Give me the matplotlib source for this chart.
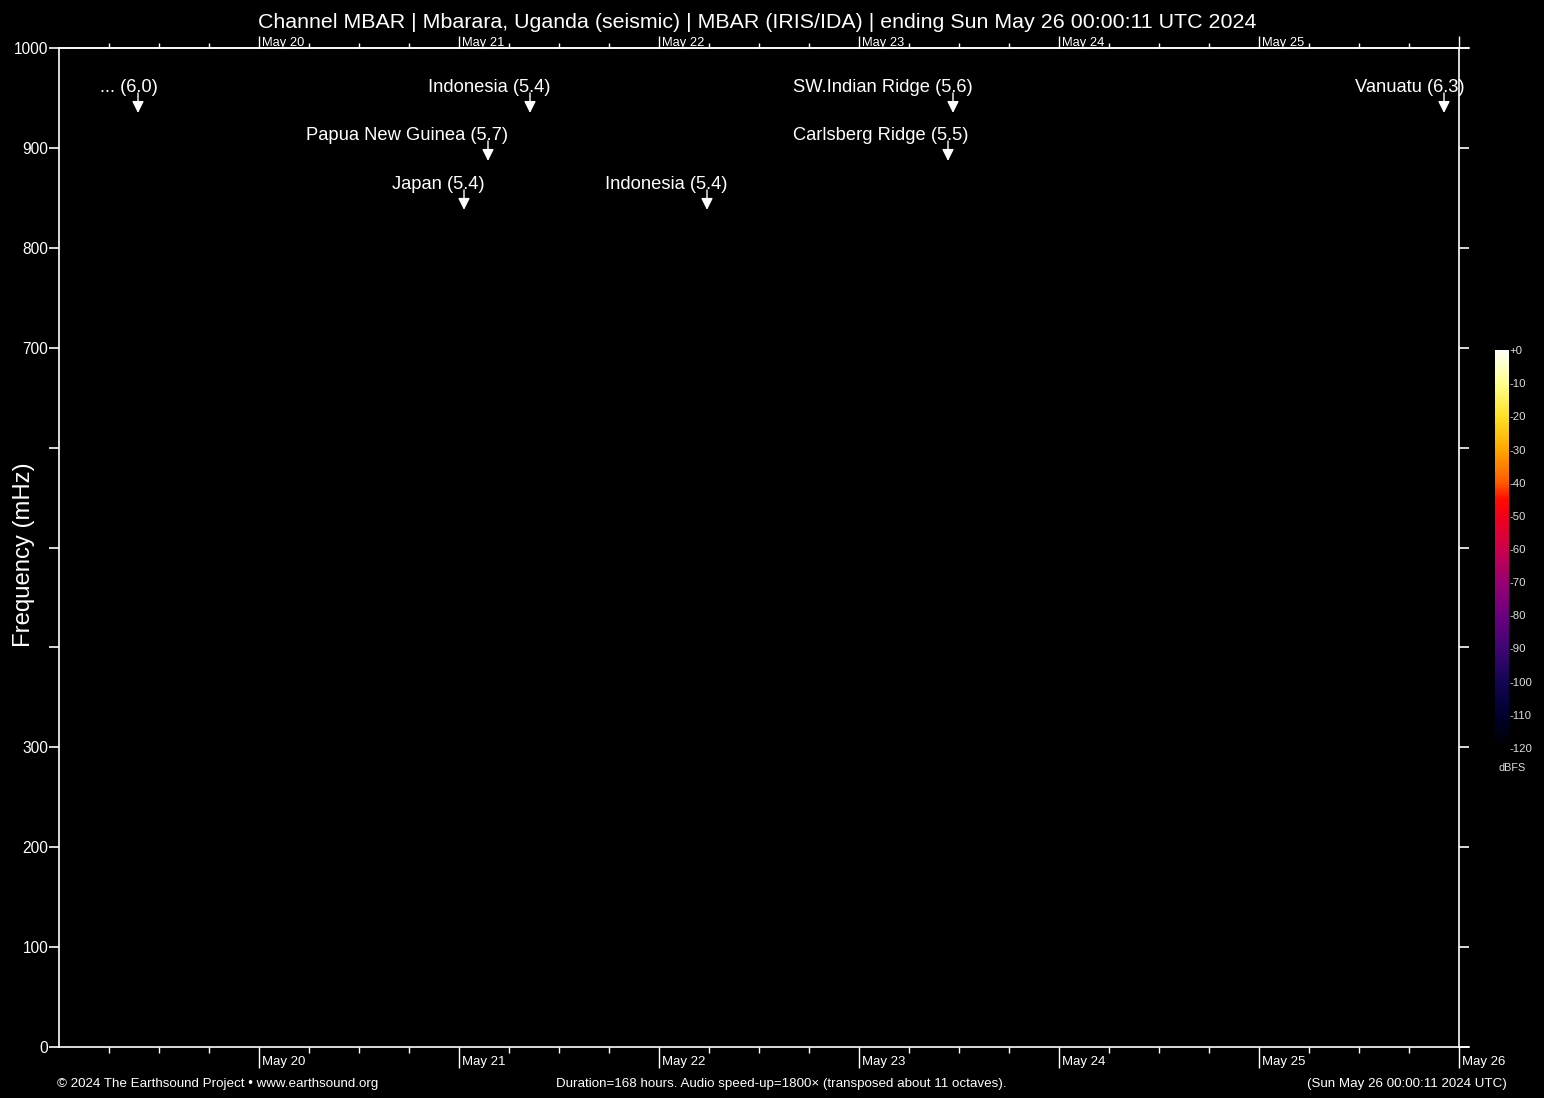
import matplotlib
matplotlib.use("Agg")
import matplotlib.pyplot as plt
import numpy as np
from matplotlib.colors import LinearSegmentedColormap, Normalize
from matplotlib.cm import ScalarMappable
import matplotlib.transforms as mtransforms

plt.rcParams['font.family'] = ['Liberation Sans', 'DejaVu Sans']

# ---- data ----
title = "Channel MBAR | Mbarara, Uganda (seismic) | MBAR (IRIS/IDA) | ending Sun May 26 00:00:11 UTC 2024"
duration_hours = 168
day_labels = ["May 20", "May 21", "May 22", "May 23", "May 24", "May 25", "May 26"]
day_hours = [24, 48, 72, 96, 120, 144, 168]
freq_max = 1000
ytick_vals = [0, 100, 200, 300, 400, 500, 600, 700, 800, 900, 1000]
ytick_labels = ["0", "100", "200", "300", "", "", "", "700", "800", "900", "1000"]

event_names = ["...", "Indonesia", "Papua New Guinea", "Japan", "Indonesia",
               "SW.Indian Ridge", "Carlsberg Ridge", "Vanuatu"]
event_mags = [6.0, 5.4, 5.7, 5.4, 5.4, 5.6, 5.5, 6.3]
event_hours = [9.48, 56.52, 51.48, 48.6, 77.76, 107.28, 106.68, 166.2]
event_freq = [935, 935, 887, 838, 838, 935, 887, 935]

cbar_ticks = [0, -10, -20, -30, -40, -50, -60, -70, -80, -90, -100, -110, -120]
cbar_labels = ["+0", "-10", "-20", "-30", "-40", "-50", "-60", "-70", "-80", "-90", "-100", "-110", "-120"]

footer_left = "\u00a9 2024 The Earthsound Project \u2022 www.earthsound.org"
footer_mid = "Duration=168 hours. Audio speed-up=1800\u00d7 (transposed about 11 octaves)."
footer_right = "(Sun May 26 00:00:11 2024 UTC)"

# ---- figure ----
W, H = 1544, 1098
fig = plt.figure(figsize=(W / 100, H / 100), dpi=100, facecolor="black")

L, R, T, B = 59, 1459, 48, 1047
ax = fig.add_axes([L / W, (H - B) / H, (R - L) / W, (B - T) / H])
ax.set_facecolor("black")
ax.set_xlim(0, duration_hours)
ax.set_ylim(0, freq_max)
for s in ax.spines.values():
    s.set_color("white")
    s.set_linewidth(1.2)

# y ticks
ax.set_yticks(ytick_vals)
ax.set_yticklabels(ytick_labels)
ax.tick_params(axis="y", which="both", left=True, right=True, direction="out",
               length=7.3, width=1.2, color="white", labelcolor="white",
               labelsize=11.2, pad=0.3)
ax.set_ylabel("Frequency (mHz)", color="white", fontsize=17.2)
ax.yaxis.set_label_coords(-24 / (R - L), 0.4925)

# bottom x ticks
minor = [h for h in range(6, duration_hours + 1, 6) if h % 24 != 0]
ax.set_xticks(day_hours)
ax.set_xticklabels([])
ax.set_xticks(minor, minor=True)
ax.tick_params(axis="x", which="major", bottom=True, top=False, direction="out",
               length=15, width=1.0, color="white")
ax.tick_params(axis="x", which="minor", bottom=True, top=False, direction="out",
               length=4, width=1.0, color="white")

off = mtransforms.ScaledTranslation(3 / 100, 0, fig.dpi_scale_trans)
blend = mtransforms.blended_transform_factory(ax.transData, ax.transAxes)
for h, lab in zip(day_hours, day_labels):
    ax.text(h, -15 / (B - T), lab, transform=blend + off,
            ha="left", va="center", color="white", fontsize=9.5)

# top x axis
sec = ax.secondary_xaxis("top")
sec.set_xticks(day_hours)
sec.set_xticklabels([])
sec.set_xticks(minor, minor=True)
sec.tick_params(axis="x", which="major", direction="out", length=9, width=1.0, color="white")
sec.tick_params(axis="x", which="minor", direction="out", length=3.5, width=1.0, color="white")
sec.spines["top"].set_color("white")
sec.spines["top"].set_linewidth(1.2)
for h, lab in zip(day_hours[:-1], day_labels[:-1]):
    ax.text(h, 1 + 5 / (B - T), lab, transform=blend + off,
            ha="left", va="center", color="white", fontsize=9.3)

# extended axis lines beyond right spine
ext = 10 / (R - L)
ax.plot([1, 1 + ext], [1, 1], color="white", lw=1.2, transform=ax.transAxes, clip_on=False)
ax.plot([1, 1 + ext], [0, 0], color="white", lw=1.2, transform=ax.transAxes, clip_on=False)

# events
for name, mag, hr, fq in zip(event_names, event_mags, event_hours, event_freq):
    ax.annotate("", xy=(hr, fq), xytext=(hr, fq + 20),
                arrowprops=dict(arrowstyle="-|>,head_length=0.5,head_width=0.25",
                                color="white", lw=1.0, shrinkA=0, shrinkB=0,
                                mutation_scale=14))
    ax.annotate(f"{name} ({mag:.1f})", xy=(hr, fq), xytext=(14.5, 18.0),
                textcoords="offset points", ha="right", va="center",
                color="white", fontsize=13.2)

# title
fig.text(757 / W, 1 - 22 / H, title, ha="center", va="center", color="white", fontsize=15.4)

# colorbar
cmap = LinearSegmentedColormap.from_list("esound", [
    (0.0, (0.0, 0.0, 0.0)),
    (10 / 120, (0.0, 0.0, 0.18)),
    (20 / 120, (0.08, 0.02, 0.33)),
    (30 / 120, (0.25, 0.02, 0.45)),
    (40 / 120, (0.42, 0.0, 0.5)),
    (50 / 120, (0.6, 0.0, 0.45)),
    (60 / 120, (0.8, 0.0, 0.3)),
    (70 / 120, (0.95, 0.0, 0.1)),
    (75 / 120, (1.0, 0.05, 0.0)),
    (80 / 120, (1.0, 0.35, 0.0)),
    (90 / 120, (1.0, 0.65, 0.0)),
    (100 / 120, (1.0, 0.88, 0.15)),
    (110 / 120, (1.0, 1.0, 0.55)),
    (1.0, (1.0, 1.0, 0.97)),
])
cax = fig.add_axes([1495 / W, (H - 748) / H, 14 / W, 398 / H])
cb = fig.colorbar(ScalarMappable(norm=Normalize(-120, 0), cmap=cmap), cax=cax)
cb.outline.set_visible(False)
cb.set_ticks(cbar_ticks)
cb.set_ticklabels(cbar_labels)
cax.tick_params(length=0, pad=0.5, labelsize=8.2, labelcolor="#dddddd")
fig.text(1512 / W, 1 - 768 / H, "dBFS", ha="center", va="center", color="#dddddd", fontsize=7.8)

# footer
fig.text(57 / W, 1 - 1084 / H, footer_left, ha="left", va="center", color="white", fontsize=9.6)
fig.text(781 / W, 1 - 1084 / H, footer_mid, ha="center", va="center", color="white", fontsize=9.6)
fig.text(1507 / W, 1 - 1084 / H, footer_right, ha="right", va="center", color="white", fontsize=9.6)

fig.savefig("out.png", dpi=100, facecolor="black")
